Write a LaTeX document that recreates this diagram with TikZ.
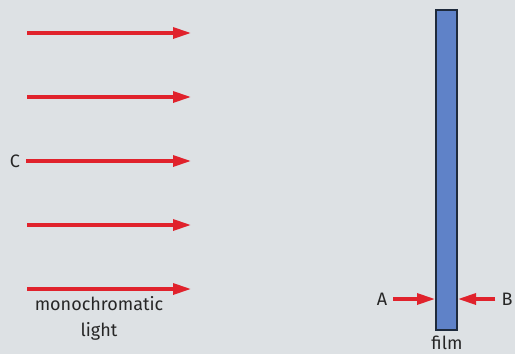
\documentclass[tikz,border=0pt]{standalone}
\usepackage{fontspec}
\setmainfont{Fira Sans}
\usetikzlibrary{positioning, arrows.meta}

\definecolor{bgrey}{HTML}{DDE1E4}
\definecolor{rayred}{HTML}{E0222C}
\definecolor{filmblue}{HTML}{5F82C8}
\definecolor{filmedge}{HTML}{1E2A3C}

\begin{document}
\begin{tikzpicture}[
				x=1pt, y=-1pt,
				>={Triangle[length=18pt, width=11pt]},
				ray/.style={->, draw=rayred, line width=3.2pt},
				label/.style={font=\fontsize{18pt}{26pt}\selectfont, text=black!85, inner sep=1pt},
				film/.style={draw=filmedge, fill=filmblue, line width=1.8pt}
				]
				
				% Fondo
				\fill[bgrey] (0,0) rectangle (515,354);
				\useasboundingbox (0,0) rectangle (515,354);
				
				% Rayos de luz
				\foreach \i/\y in {1/33, 2/97, 4/225, 5/289} {
					\coordinate (s\i) at (27,\y);
					\coordinate (e\i) at (191,\y);
					\draw[ray] (s\i) -- (e\i);
				}
				\node[label] (C) at (15,161) {C};
				\coordinate (e3) at (191,161);
				\draw[ray] (C.east) ++(5,0) coordinate (s3) -- (e3);
				
				\node[label, align=center] (mono) at (99,318) {monochromatic\\light};
				
				% Pelicula
				\draw[film] (436,10) rectangle (457,330);
				\node[label] (filmlbl) at (447,343) {film};
				
				% A y B
				\node[label] (A) at (382,299) {A};
				\node[label] (B) at (507,299) {B};
				\coordinate (aend) at (435,299);
				\coordinate (bend) at (458,299);
				\draw[ray] (A.east) ++(5,0) -- (aend);
				\draw[ray] (B.west) ++(-5,0) -- (bend);
				
			\end{tikzpicture}
\end{document}
